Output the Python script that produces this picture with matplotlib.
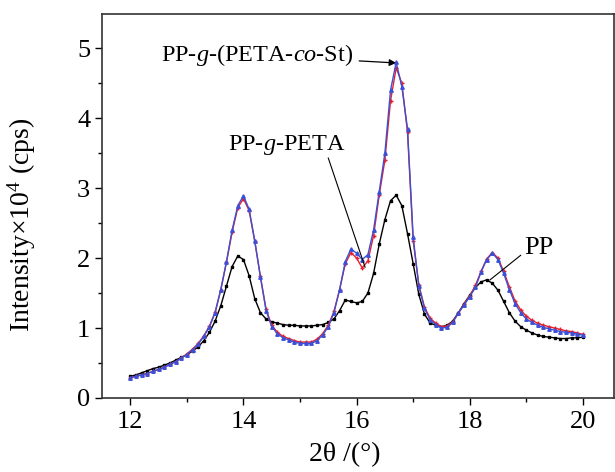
import matplotlib
matplotlib.use("Agg")
import matplotlib.pyplot as plt
from matplotlib.ticker import MultipleLocator

plt.rcParams['font.family'] = ['Liberation Serif', 'DejaVu Serif']
plt.rcParams['mathtext.fontset'] = 'custom'
plt.rcParams['mathtext.rm'] = 'Liberation Serif'
plt.rcParams['mathtext.it'] = 'Liberation Serif:italic'

two_theta = [12.0, 12.1, 12.2, 12.3, 12.4, 12.5, 12.6, 12.7, 12.8, 12.9,
             13.0, 13.1, 13.2, 13.3, 13.4, 13.5, 13.6, 13.7, 13.8, 13.9,
             14.0, 14.1, 14.2, 14.3, 14.4, 14.5, 14.6, 14.7, 14.8, 14.9,
             15.0, 15.1, 15.2, 15.3, 15.4, 15.5, 15.6, 15.7, 15.8, 15.9,
             16.0, 16.1, 16.2, 16.3, 16.4, 16.5, 16.6, 16.7, 16.8, 16.9,
             17.0, 17.1, 17.2, 17.3, 17.4, 17.5, 17.6, 17.7, 17.8, 17.9,
             18.0, 18.1, 18.2, 18.3, 18.4, 18.5, 18.6, 18.7, 18.8, 18.9,
             19.0, 19.1, 19.2, 19.3, 19.4, 19.5, 19.6, 19.7, 19.8, 19.9,
             20.0]

pp = [0.31, 0.33, 0.36, 0.39, 0.42, 0.44, 0.47, 0.50, 0.54, 0.58,
      0.62, 0.67, 0.73, 0.82, 0.94, 1.10, 1.32, 1.60, 1.88, 2.03,
      1.98, 1.75, 1.42, 1.22, 1.13, 1.09, 1.07, 1.05, 1.04, 1.04,
      1.03, 1.03, 1.03, 1.04, 1.05, 1.08, 1.13, 1.25, 1.40, 1.38,
      1.36, 1.38, 1.50, 1.78, 2.20, 2.55, 2.82, 2.90, 2.75, 2.35,
      1.92, 1.48, 1.20, 1.07, 1.04, 1.02, 1.04, 1.10, 1.22, 1.35,
      1.47, 1.58, 1.66, 1.69, 1.64, 1.54, 1.38, 1.22, 1.10, 1.02,
      0.97, 0.93, 0.90, 0.88, 0.87, 0.86, 0.85, 0.85, 0.86, 0.86,
      0.87]

pp_g_peta = [0.29, 0.31, 0.33, 0.35, 0.38, 0.41, 0.44, 0.48, 0.52, 0.57,
             0.63, 0.70, 0.78, 0.89, 1.03, 1.23, 1.55, 1.94, 2.37, 2.72,
             2.85, 2.68, 2.24, 1.74, 1.27, 1.04, 0.94, 0.88, 0.85, 0.82,
             0.80, 0.80, 0.80, 0.84, 0.92, 1.04, 1.24, 1.55, 1.92, 2.08,
             2.00, 1.86, 1.96, 2.32, 2.90, 3.40, 4.25, 4.72, 4.50, 3.80,
             2.25, 1.62, 1.30, 1.14, 1.07, 1.02, 1.03, 1.09, 1.21, 1.34,
             1.46, 1.61, 1.81, 1.99, 2.08, 2.00, 1.81, 1.59, 1.39, 1.26,
             1.17, 1.11, 1.07, 1.04, 1.02, 1.00, 0.98, 0.96, 0.95, 0.93,
             0.91]

pp_g_peta_co_st = [0.29, 0.31, 0.33, 0.35, 0.38, 0.41, 0.44, 0.48, 0.52, 0.57,
                   0.62, 0.69, 0.77, 0.88, 1.02, 1.22, 1.55, 1.95, 2.40, 2.75,
                   2.89, 2.70, 2.25, 1.73, 1.25, 1.02, 0.92, 0.86, 0.83, 0.80,
                   0.78, 0.78, 0.78, 0.82, 0.90, 1.02, 1.22, 1.55, 1.95, 2.13,
                   2.07, 1.98, 2.05, 2.40, 2.95, 3.50, 4.40, 4.80, 4.45, 3.85,
                   2.30, 1.60, 1.28, 1.12, 1.05, 1.00, 1.01, 1.08, 1.22, 1.33,
                   1.45, 1.58, 1.80, 1.98, 2.07, 1.98, 1.78, 1.55, 1.35, 1.22,
                   1.13, 1.08, 1.04, 1.01, 0.99, 0.97, 0.95, 0.94, 0.93, 0.91,
                   0.90]

fig = plt.figure(figsize=(6.15, 4.72), dpi=100)
ax = fig.add_axes([102/615, 1 - 398/472, (614-102)/615, (398-14)/472])

ax.plot(two_theta, pp, color='black', lw=1.0, marker='s', ms=2.0, zorder=2)
ax.plot(two_theta, pp_g_peta, color='#e8202a', lw=1.0, marker='+', ms=3.0, zorder=3)
ax.plot(two_theta, pp_g_peta_co_st, color='#3b50d6', lw=1.0, marker='^', ms=2.5, zorder=4)

ax.set_xlim(11.5, 20.55)
ax.set_ylim(0, 5.49)
ax.xaxis.set_major_locator(MultipleLocator(2))
ax.xaxis.set_minor_locator(MultipleLocator(1))
ax.yaxis.set_major_locator(MultipleLocator(1))
ax.yaxis.set_minor_locator(MultipleLocator(0.5))
ax.tick_params(which='major', direction='out', length=5, width=1, labelsize=19)
ax.tick_params(axis='x', which='major', pad=4)
ax.tick_params(which='minor', direction='out', length=3, width=1)
for s in ax.spines.values():
    s.set_color('#333333')
    s.set_linewidth(1.2)

ax.set_xlabel('2θ /(°)', fontsize=20)
ax.xaxis.set_label_coords(0.475, -0.116)
ax.set_ylabel(r'Intensity×10$^4$ (cps)', fontsize=20)
ax.yaxis.set_label_coords(-0.125, 0.45)

ax.annotate(r'PP-$\it{g}$-(PETA-$\it{co}$-St)', xy=(16.7, 4.79), xytext=(12.55, 4.9),
            fontsize=17.5, va='center', ha='left',
            arrowprops=dict(arrowstyle='-|>', color='black', lw=0.9,
                            mutation_scale=10, shrinkA=2, shrinkB=0))
ax.annotate(r'PP-$\it{g}$-PETA', xy=(16.15, 1.87), xytext=(13.73, 3.62),
            fontsize=17.5, va='center', ha='left')
ax.plot([15.50, 16.15], [3.43, 1.87], color='black', lw=0.8, zorder=5)
ax.annotate('PP', xy=(18.36, 1.69), xytext=(18.97, 2.14),
            fontsize=19, va='center', ha='left')
ax.plot([18.90, 18.36], [2.04, 1.69], color='black', lw=0.8, zorder=5)

fig.savefig('out.png', dpi=100)
